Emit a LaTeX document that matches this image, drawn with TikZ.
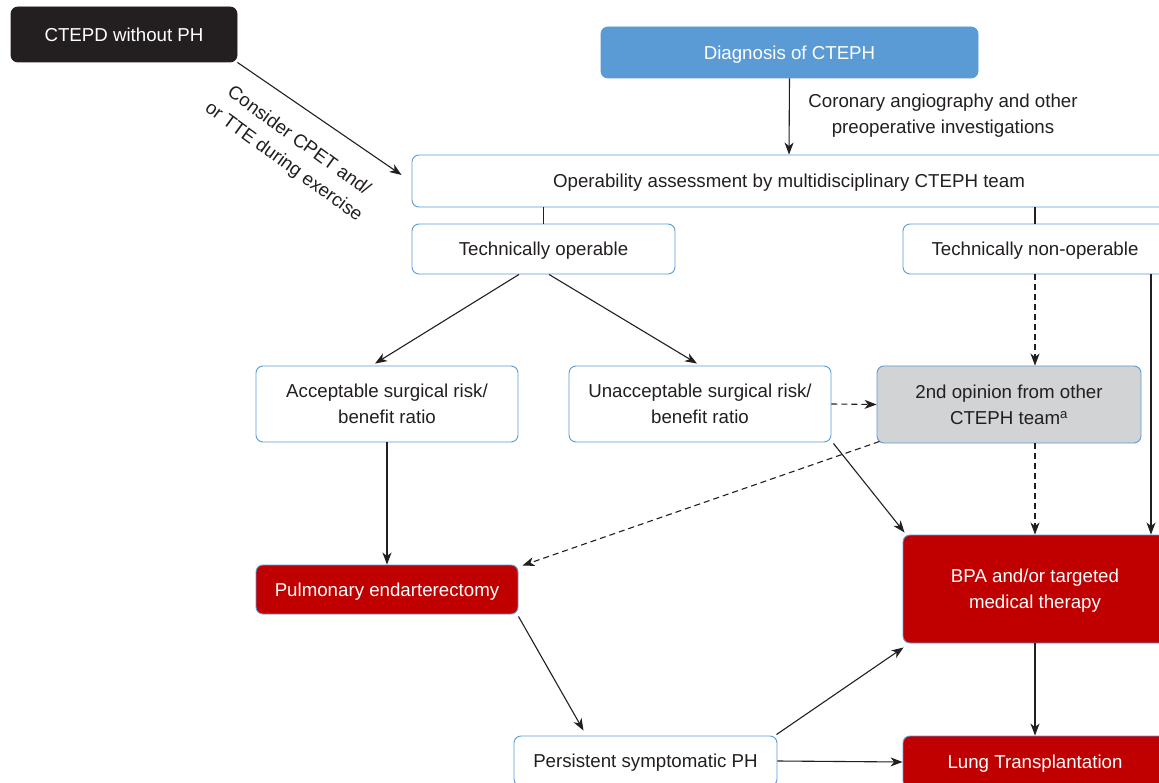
\documentclass[tikz,border=0pt]{standalone}
\usepackage{fontspec}
\setmainfont{Liberation Sans}
\usetikzlibrary{arrows.meta,calc}
\definecolor{bl}{HTML}{5B9BD5}
\definecolor{rd}{HTML}{C00000}
\definecolor{gr}{HTML}{D1D3D4}
\definecolor{ink}{HTML}{231F20}
\newcommand{\fsz}{\fontsize{18.7}{26}\selectfont}
\tikzset{
  box/.style={draw=bl, line width=0.9pt, rounded corners=7pt, fill=white, text=ink,
    align=center, inner sep=0pt, font=\fsz, text depth=0pt},
  redbox/.style={box, fill=rd, text=white},
  arr/.style={draw=ink, line width=1.1pt, -{Stealth[length=12pt,width=9pt,inset=3.5pt]}},
  plainline/.style={draw=ink, line width=1.1pt},
  dashline/.style={arr, dash pattern=on 6pt off 4pt},
}
\begin{document}
\begin{tikzpicture}[x=1pt,y=-1pt]
\useasboundingbox (0,0) rectangle (1159,783);
\fill[white] (0,0) rectangle (1159,783);
\clip (0,0) rectangle (1159,783);

\node[box, fill=ink, draw=ink, text=white, minimum width=226pt, minimum height=55pt] (ctepd) at (124,34.5) {CTEPD without PH};
\node[box, fill=bl, text=white, minimum width=377pt, minimum height=51pt] (diag) at (789.5,52.5) {Diagnosis of CTEPH};
\node[text=ink, font=\fsz, align=center, inner sep=0pt] (cor) at (943,116) {Coronary angiography and other\\preoperative investigations};
\node[box, minimum width=754pt, minimum height=52pt] (opa) at (789,181) {Operability assessment by multidisciplinary CTEPH team};
\node[box, minimum width=263pt, minimum height=50pt] (techop) at (543.5,249) {Technically operable};
\node[box, minimum width=264pt, minimum height=50pt] (nonop) at (1035,249) {Technically non-operable};
\node[box, minimum width=262pt, minimum height=76pt] (acc) at (387,404) {Acceptable surgical risk/\\benefit ratio};
\node[box, minimum width=262pt, minimum height=76pt] (unacc) at (700,404) {Unacceptable surgical risk/\\benefit ratio};
\node[box, fill=gr, minimum width=264pt, minimum height=77pt] (second) at (1009,404.5) {2nd opinion from other\\CTEPH team\textsuperscript{a}};
\node[redbox, minimum width=262pt, minimum height=49pt] (pe) at (387,589.5) {Pulmonary endarterectomy};
\node[redbox, minimum width=264pt, minimum height=108pt] (bpa) at (1035,589) {BPA and/or targeted\\medical therapy};
\node[box, minimum width=263pt, minimum height=50pt] (pers) at (645.5,761) {Persistent symptomatic PH};
\node[redbox, minimum width=264pt, minimum height=52pt] (lung) at (1035,762) {Lung Transplantation};

% connectors
\draw[arr] (ctepd.south east) -- ([xshift=-10pt,yshift=6pt]opa.west);
\node[text=ink, font=\fsz, align=center, inner sep=0pt, rotate=-36] (lbl) at (291,152) {Consider CPET and/\\or TTE during exercise};
\draw[arr] (diag.south) -- (opa.north);
\draw[plainline] (techop.north |- opa.south) -- (techop.north);
\draw[plainline] (nonop.north |- opa.south) -- (nonop.north);
\draw[arr] ([xshift=-24.5pt]techop.south) -- ([xshift=-12pt,yshift=2pt]acc.north);
\draw[arr] ([xshift=5.5pt]techop.south) -- ([xshift=-3pt,yshift=2pt]unacc.north);
\draw[dashline] (nonop.south) -- (nonop.south |- second.north);
\draw[arr] ([xshift=116pt]nonop.south) -- ([xshift=116pt]bpa.north);
\draw[dashline] (unacc.east) -- (second.west);
\draw[dashline] ([shift={(3pt,2pt)}]second.south west) -- ([xshift=4pt,yshift=-1pt]pe.north east);
\draw[dashline] (second.south -| bpa.north) -- (bpa.north);
\draw[arr] ([shift={(2pt,-1pt)}]unacc.south east) -- ([shift={(2pt,2pt)}]bpa.north west);
\draw[arr] (acc.south) -- (pe.north);
\draw[arr] ([yshift=-2pt]pe.south east) -- ([xshift=-62pt,yshift=5pt]pers.north);
\draw[arr] ([xshift=-1pt,yshift=1pt]pers.north east) -- ([xshift=1pt,yshift=-4pt]bpa.south west);
\draw[arr] (pers.east) -- (lung.west);
\draw[arr] (bpa.south) -- (lung.north);
\end{tikzpicture}
\end{document}
